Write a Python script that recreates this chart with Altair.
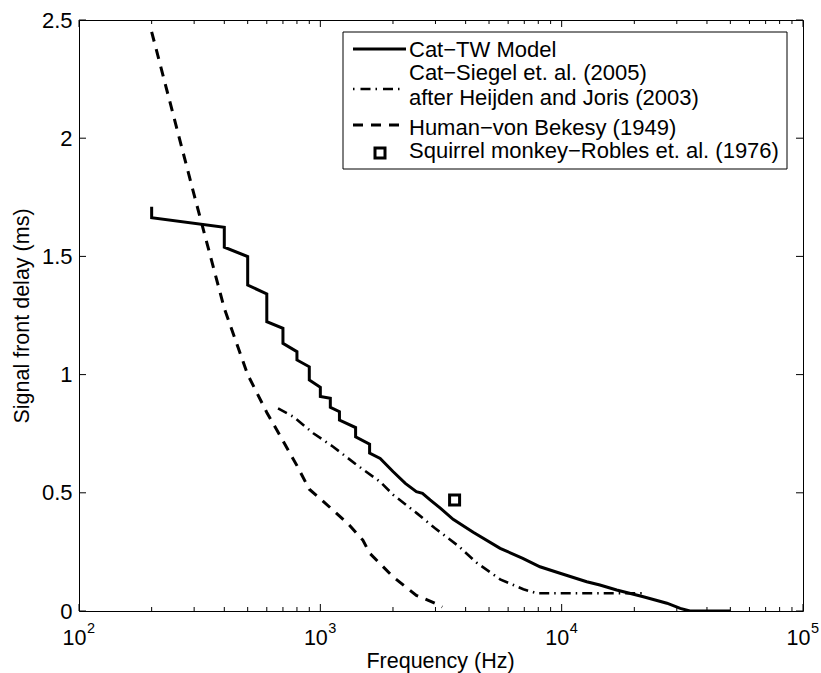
import altair as alt
import pandas as pd

# ---------------- data ----------------
tw_freq = [200, 200, 400, 400, 500, 500, 600, 600, 700, 700, 800, 800, 900, 900,
           1000, 1000, 1100, 1100, 1200, 1200, 1400, 1400, 1600, 1600, 1770, 2000,
           2250, 2500, 2650, 2850, 3150, 3550, 4300, 5560, 6900, 8130, 9700, 12700,
           14400, 16900, 21800, 27300, 31000, 34000, 50000]
tw_delay = [1.71, 1.664, 1.623, 1.539, 1.499, 1.379, 1.341, 1.224, 1.196, 1.132,
            1.097, 1.062, 1.033, 0.977, 0.946, 0.907, 0.900, 0.862, 0.843, 0.808,
            0.776, 0.737, 0.706, 0.668, 0.645, 0.590, 0.540, 0.505, 0.498, 0.470,
            0.434, 0.388, 0.333, 0.265, 0.223, 0.187, 0.162, 0.124, 0.110, 0.089,
            0.060, 0.033, 0.011, 0.0, 0.0]

siegel_freq = [668, 773, 935, 1130, 1415, 1768, 2007, 2508, 2988, 3393, 3733, 4448,
               5560, 6939, 7910, 21500]
siegel_delay = [0.857, 0.822, 0.752, 0.695, 0.618, 0.547, 0.491, 0.414, 0.350, 0.307,
                0.275, 0.204, 0.134, 0.092, 0.075, 0.075]

bekesy_freq = [200, 300, 400, 500, 600, 700, 800, 900, 1000, 1300, 1500, 1600, 2000,
               2500, 3000, 3200]
bekesy_delay = [2.45, 1.76, 1.28, 1.00, 0.84, 0.72, 0.615, 0.515, 0.475, 0.37, 0.30,
                0.245, 0.145, 0.066, 0.032, 0.017]

monkey_freq = [3600]
monkey_delay = [0.47]

legend_labels = ["Cat\u2212TW Model", "Cat\u2212Siegel et. al. (2005)",
                 "after Heijden and Joris (2003)", "Human\u2212von Bekesy (1949)",
                 "Squirrel monkey\u2212Robles et. al. (1976)"]

major_ticks_x = [100, 1000, 10000, 100000]
minor_ticks_x = [200, 300, 400, 500, 600, 700, 800, 900,
                 2000, 3000, 4000, 5000, 6000, 7000, 8000, 9000,
                 20000, 30000, 40000, 50000, 60000, 70000, 80000, 90000]
exponents = ["2", "3", "4", "5"]
ticks_y = [0, 0.5, 1, 1.5, 2, 2.5]

# ---------------- styling ----------------
FONT = "Liberation Sans"
FS = 22
W, H = 724, 591

xs = alt.Scale(type="log", domain=[100, 100000], nice=False)
ys = alt.Scale(domain=[0, 2.5], nice=False, zero=False)

x_axis = alt.Axis(values=major_ticks_x, labelExpr="'10'", ticks=False, domain=False,
                  grid=False, labelFont=FONT, labelFontSize=21.5, labelColor="black",
                  labelPadding=33, labelBaseline="alphabetic", labelFlush=False,
                  labelOverlap=False, labelOffset=-5,
                  title="Frequency (Hz)", titleFont=FONT, titleFontSize=21.5,
                  titleFontWeight="normal", titleColor="black", titleX=W / 2 - 1,
                  titleY=56, titleBaseline="alphabetic", titleAlign="center")
y_axis = alt.Axis(values=ticks_y, labelExpr="datum.value", ticks=False, domain=False,
                  grid=False, labelFont=FONT, labelFontSize=FS, labelColor="black",
                  labelPadding=7, labelFlush=False, labelOverlap=False,
                  title="Signal front delay (ms)", titleFont=FONT, titleFontSize=21.5,
                  titleFontWeight="normal", titleColor="black", titleX=-51,
                  titleY=H / 2, titleAngle=270, titleBaseline="alphabetic",
                  titleAlign="center")

X = alt.X("f:Q", scale=xs, axis=x_axis)
Y = alt.Y("d:Q", scale=ys, axis=y_axis)


def series(freq, delay):
    return pd.DataFrame({"f": freq, "d": delay, "i": list(range(len(freq)))})


# ---------------- ticks (inside, MATLAB style) ----------------
df_major = pd.DataFrame({"f": major_ticks_x})
df_minor = pd.DataFrame({"f": minor_ticks_x})
df_yt = pd.DataFrame({"d": ticks_y})
df_exp = pd.DataFrame({"f": major_ticks_x, "e": exponents})

tick_layers = [
    alt.Chart(df_major).mark_rule(color="black", strokeWidth=1).encode(
        x=X, y=alt.value(H), y2=alt.value(H - 7)),
    alt.Chart(df_major).mark_rule(color="black", strokeWidth=1).encode(
        x=X, y=alt.value(0), y2=alt.value(7)),
    alt.Chart(df_minor).mark_rule(color="black", strokeWidth=1).encode(
        x=X, y=alt.value(H), y2=alt.value(H - 4)),
    alt.Chart(df_minor).mark_rule(color="black", strokeWidth=1).encode(
        x=X, y=alt.value(0), y2=alt.value(4)),
    alt.Chart(df_yt).mark_rule(color="black", strokeWidth=1).encode(
        y=Y, x=alt.value(0), x2=alt.value(7)),
    alt.Chart(df_yt).mark_rule(color="black", strokeWidth=1).encode(
        y=Y, x=alt.value(W), x2=alt.value(W - 7)),
    alt.Chart(df_exp).mark_text(font=FONT, fontSize=14.5, align="left",
                                baseline="alphabetic", dx=8, color="black").encode(
        x=X, y=alt.value(H + 22), text="e:N"),
]

# ---------------- data layers ----------------
tw = alt.Chart(series(tw_freq, tw_delay)).mark_line(
    color="black", strokeWidth=3, strokeJoin="miter", clip=True).encode(
    x=X, y=Y, order="i:Q")
siegel = alt.Chart(series(siegel_freq, siegel_delay)).mark_line(
    color="black", strokeWidth=2.6, strokeDash=[10, 5, 1.5, 5], clip=True).encode(
    x=X, y=Y, order="i:Q")
bekesy = alt.Chart(series(bekesy_freq, bekesy_delay)).mark_line(
    color="black", strokeWidth=3, strokeDash=[10, 8], clip=True).encode(
    x=X, y=Y, order="i:Q")
monkey = alt.Chart(series(monkey_freq, monkey_delay)).mark_point(
    shape="square", filled=False, size=100, strokeWidth=3, color="black",
    opacity=1).encode(x=X, y=Y)

# ---------------- legend ----------------
one = pd.DataFrame({"k": [0]})
LX0, LX1 = 264, 708
legend_layers = [
    alt.Chart(one).mark_rect(fill="white", stroke="black", strokeWidth=1).encode(
        x=alt.value(LX0), x2=alt.value(LX1), y=alt.value(12), y2=alt.value(149)),
    alt.Chart(one).mark_rule(color="black", strokeWidth=3).encode(
        x=alt.value(274), x2=alt.value(327), y=alt.value(29)),
    alt.Chart(one).mark_rule(color="black", strokeWidth=2.6,
                             strokeDash=[1.5, 6, 10, 5]).encode(
        x=alt.value(274), x2=alt.value(322), y=alt.value(69)),
    alt.Chart(one).mark_rule(color="black", strokeWidth=3, strokeDash=[10, 8]).encode(
        x=alt.value(274), x2=alt.value(328), y=alt.value(105)),
    alt.Chart(one).mark_point(shape="square", filled=False, size=100, strokeWidth=3,
                              color="black", opacity=1).encode(
        x=alt.value(301), y=alt.value(133)),
]
label_y = [37, 60, 85, 115, 138]
for lab, ly in zip(legend_labels, label_y):
    legend_layers.append(
        alt.Chart(one).mark_text(text=lab, font=FONT, fontSize=FS, align="left",
                                 baseline="alphabetic", color="black").encode(
            x=alt.value(330), y=alt.value(ly)))

chart = alt.layer(*tick_layers, bekesy, siegel, tw, monkey, *legend_layers).properties(
    width=W, height=H,
    autosize=alt.AutoSizeParams(type="none"),
    padding={"left": 79, "top": 20, "right": 18, "bottom": 62},
    background="white",
).configure_view(stroke="black", strokeWidth=1)

chart.save("out.html", embed_options={"renderer": "svg", "actions": False})
